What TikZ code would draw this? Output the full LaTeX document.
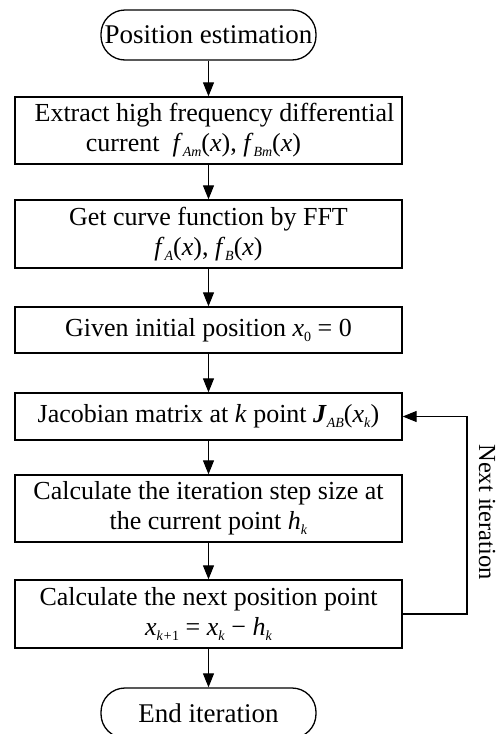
\documentclass[tikz,border=0pt]{standalone}
\usepackage{fontspec}
\setmainfont{Liberation Serif}
\usetikzlibrary{arrows.meta}
\newcommand{\vi}[1]{\textit{#1}}
\newcommand{\sbs}[1]{\raisebox{-0.4ex}{\fontsize{14}{14}\selectfont\textit{#1}}}
\newcommand{\sbu}[1]{\raisebox{-0.4ex}{\fontsize{14}{14}\selectfont #1}}
\tikzset{
  procbox/.style={draw, line width=1.3pt, minimum width=387pt, inner sep=0pt,
    align=center, font=\fontsize{26}{30}\selectfont},
  termbox/.style={draw, line width=1.3pt, minimum width=215pt, minimum height=50pt,
    rounded corners=24pt, inner sep=0pt, font=\fontsize{27}{30}\selectfont},
  flow/.style={line width=1.1pt, -{Triangle[length=14pt,width=11pt]}}
}
\begin{document}
\begin{tikzpicture}[x=1pt,y=1pt]
\useasboundingbox (0,0) rectangle (498,-734);
\node[termbox] (t0) at (208.5,-35) {Position estimation};
\node[procbox, minimum height=67pt] (b1) at (208.5,-130.5)
  {\hspace*{12pt}Extract high frequency differential\\current\ \ \vi{f}\sbs{Am}(\vi{x}), \vi{f}\sbs{Bm}(\vi{x})\hspace*{30pt}};
\node[procbox, minimum height=68pt] (b2) at (208.5,-234)
  {Get curve function by FFT\\\vi{f}\sbs{A}(\vi{x}), \vi{f}\sbs{B}(\vi{x})};
\node[procbox, minimum height=46pt] (b3) at (208.5,-330)
  {Given initial position \vi{x}\sbu{0} = 0};
\node[procbox, minimum height=47pt] (b4) at (208.5,-416.5)
  {Jacobian matrix at \vi{k} point \textbf{\textit{J}}\sbs{AB}(\vi{x}\sbs{k})};
\node[procbox, minimum height=67pt] (b5) at (208.5,-508.5)
  {Calculate the iteration step size at\\the current point \vi{h}\sbs{k}};
\node[procbox, minimum height=68pt] (b6) at (208.5,-614)
  {Calculate the next position point\\\vi{x}\sbs{k+}\sbu{1} = \vi{x}\sbs{k} − \vi{h}\sbs{k}};
\node[termbox] (t1) at (208.5,-713) {End iteration};
\draw[flow] (t0) -- (b1);
\draw[flow] (b1) -- (b2);
\draw[flow] (b2) -- (b3);
\draw[flow] (b3) -- (b4);
\draw[flow] (b4) -- (b5);
\draw[flow] (b5) -- (b6);
\draw[flow] (b6) -- (t1);
\coordinate (c1) at (467,-614);
\coordinate (c2) at (467,-416.5);
\draw[flow] (b6.east) -- (c1) -- (c2) -- (b4.east);
\node[rotate=-90, font=\fontsize{24.5}{29}\selectfont, inner sep=0pt] (lbl) at (487,-512) {Next iteration};
\end{tikzpicture}
\end{document}
